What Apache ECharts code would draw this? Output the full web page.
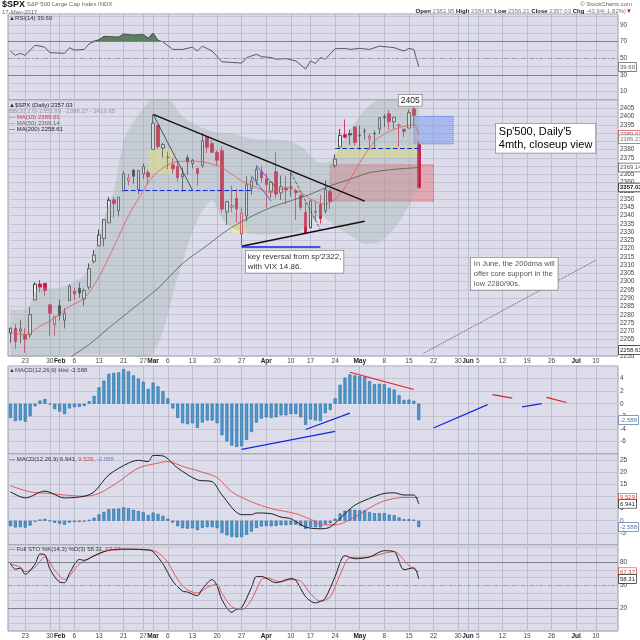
<!DOCTYPE html>
<html>
<head>
<meta charset="utf-8">
<script src="https://cdn.jsdelivr.net/npm/echarts@6.0.0/dist/echarts.min.js"></script>
<style>html,body{margin:0;padding:0;background:#fff}#chart{width:640px;height:640px}</style>
</head>
<body>
<div id="chart"></div>
<script>
// trading calendar
var holidays = ['2017-02-20', '2017-04-14', '2017-05-29', '2017-07-04'];
var monthNames = ['Jan', 'Feb', 'Mar', 'Apr', 'May', 'Jun', 'Jul', 'Aug', 'Sep', 'Oct', 'Nov', 'Dec'];

// daily candles, Jan 18 .. May 17: [open, close, low, high]
var ohlc = [
  [2269.1, 2271.9, 2263.0, 2272.1], [2271.9, 2263.7, 2259.4, 2274.3], [2270.0, 2271.3, 2262.8, 2277.0],
  [2267.8, 2265.2, 2257.0, 2271.8], [2267.9, 2280.1, 2266.0, 2284.6], [2288.9, 2298.4, 2288.9, 2299.6],
  [2298.6, 2296.7, 2293.6, 2301.0], [2299.0, 2294.7, 2291.6, 2299.0], [2286.0, 2280.9, 2267.2, 2286.0],
  [2274.0, 2278.9, 2267.2, 2279.1], [2285.6, 2279.6, 2276.4, 2289.1], [2276.7, 2280.9, 2271.7, 2284.0],
  [2288.5, 2297.4, 2288.5, 2298.3], [2294.3, 2292.6, 2288.9, 2296.2], [2295.9, 2293.1, 2290.2, 2299.4],
  [2289.6, 2294.7, 2285.4, 2295.9], [2296.7, 2307.9, 2295.2, 2311.1], [2312.3, 2316.1, 2311.1, 2319.2],
  [2321.7, 2328.3, 2321.4, 2331.6], [2326.1, 2337.6, 2321.4, 2337.6], [2335.6, 2349.3, 2335.6, 2351.3],
  [2349.6, 2347.2, 2338.9, 2351.3], [2343.0, 2351.2, 2339.6, 2351.2], [2354.9, 2365.4, 2354.9, 2366.7],
  [2361.1, 2362.8, 2358.3, 2365.1], [2367.5, 2363.8, 2359.0, 2368.3], [2355.7, 2367.3, 2352.9, 2367.3],
  [2365.2, 2369.8, 2362.3, 2371.5], [2366.1, 2363.6, 2359.0, 2367.8], [2380.1, 2396.0, 2380.1, 2401.0],
  [2394.8, 2381.9, 2380.2, 2394.8], [2380.9, 2383.1, 2375.1, 2383.9], [2375.2, 2375.3, 2368.0, 2378.8],
  [2370.7, 2368.4, 2365.4, 2375.1], [2369.8, 2363.0, 2360.6, 2373.1], [2363.5, 2364.9, 2354.5, 2369.1],
  [2375.0, 2372.6, 2364.7, 2376.9], [2371.6, 2373.5, 2368.6, 2374.4], [2368.6, 2365.5, 2358.2, 2368.6],
  [2370.3, 2385.3, 2368.9, 2390.0], [2387.7, 2381.4, 2377.8, 2388.1], [2383.7, 2378.3, 2377.8, 2385.7],
  [2378.2, 2373.5, 2370.4, 2379.6], [2379.3, 2344.0, 2341.9, 2381.9], [2342.2, 2348.5, 2334.5, 2348.9],
  [2345.1, 2346.0, 2342.1, 2358.2], [2350.4, 2344.0, 2335.7, 2356.2], [2329.1, 2341.6, 2322.3, 2344.9],
  [2339.8, 2358.6, 2336.3, 2363.8], [2356.5, 2361.1, 2352.7, 2363.4], [2361.3, 2368.1, 2358.3, 2370.4],
  [2366.6, 2362.7, 2359.9, 2370.0], [2362.3, 2358.8, 2344.7, 2365.9], [2354.8, 2360.2, 2350.7, 2360.5],
  [2366.6, 2353.0, 2350.5, 2378.4], [2353.8, 2357.5, 2349.6, 2364.2], [2356.6, 2355.5, 2346.9, 2363.8],
  [2357.2, 2357.2, 2351.5, 2366.4], [2355.0, 2353.8, 2337.3, 2356.2], [2352.2, 2344.9, 2343.5, 2352.7],
  [2342.0, 2329.0, 2329.0, 2348.4], [2332.6, 2349.0, 2332.5, 2349.1], [2342.5, 2342.2, 2337.1, 2348.4],
  [2346.8, 2338.2, 2335.2, 2352.6], [2342.7, 2355.8, 2341.3, 2361.4], [2354.7, 2348.7, 2344.0, 2356.2],
  [2370.3, 2374.2, 2369.0, 2377.0], [2381.5, 2388.6, 2381.5, 2392.5], [2389.0, 2387.5, 2386.8, 2398.2],
  [2389.7, 2388.8, 2382.7, 2392.1], [2393.7, 2384.2, 2382.4, 2393.7], [2388.5, 2388.3, 2379.8, 2394.5],
  [2391.1, 2391.2, 2386.1, 2392.9], [2386.5, 2388.1, 2379.8, 2389.8], [2389.8, 2389.5, 2380.8, 2391.4],
  [2392.4, 2399.3, 2389.4, 2399.3], [2399.9, 2399.4, 2393.6, 2401.4], [2401.6, 2396.9, 2392.0, 2403.9],
  [2396.8, 2399.6, 2392.6, 2399.7], [2394.8, 2394.4, 2381.7, 2395.7], [2392.4, 2390.9, 2387.3, 2392.4],
  [2393.0, 2402.3, 2393.0, 2404.1], [2404.6, 2400.7, 2393.4, 2405.8], [2383.0, 2357.0, 2356.2, 2384.9]
];

// overlays: [day index, value]
var ma10 = [[0,2269],[3,2268],[6,2273],[9,2278],[12,2285],[15,2290],[18,2303],[21,2321],[24,2340],[27,2355],
  [29,2364],[33,2372],[37,2373],[40,2372],[43,2369],[47,2361],[50,2357],[53,2354],[56,2357],[59,2354],
  [61,2350],[64,2347],[66,2350],[68,2357],[71,2372],[74,2385],[77,2391],[80,2394],[82,2395],[83,2389]];
var ma50 = [[12,2254],[16,2262],[20,2272],[25,2284],[30,2296],[35,2311],[40,2322],[44,2331],[48,2338],
  [53,2345],[57,2349],[61,2353],[65,2358],[69,2362],[73,2366],[78,2368],[83,2369.1]];
var bbIdx =   [0, 3, 6, 9, 13, 15, 17, 19, 21, 23, 25, 27, 29, 31, 33, 35, 37, 39, 41, 43, 45, 47, 51, 55, 59, 63, 65, 67, 70, 72, 74, 76, 79, 81, 83];
var bbUpper = [2283, 2283, 2297, 2296, 2300, 2304, 2318, 2338, 2355, 2385, 2397, 2405, 2412, 2414, 2408, 2400, 2396, 2393, 2391, 2390,
  2390, 2388, 2386, 2386, 2382, 2372, 2373, 2382, 2396, 2404, 2409, 2412, 2414, 2416, 2416.7];
var bbLower = [2249, 2249, 2250, 2254, 2256, 2256, 2256, 2256, 2256, 2256, 2255, 2254, 2257, 2270, 2292, 2312, 2330, 2343, 2349, 2338,
  2333, 2330, 2328.5, 2329, 2331, 2340, 2336, 2332, 2326, 2323, 2323, 2326, 2336, 2346, 2355.9];

var rsi = [[0,58.6],[1,53.5],[2,55.9],[3,53.5],[5,65.7],[7,63.3],[8,56.7],[11,55.9],[12,62.6],[13,59.8],[15,60.6],
  [16,67.3],[18,72.4],[19,76.3],[22,75.5],[23,79],[25,77.9],[27,78.5],[28,74.3],[29,80.2],[30,71.6],[31,69.6],
  [33,60.6],[35,60.6],[37,63.3],[38,58.6],[39,64.5],[41,58.6],[43,45.7],[45,45],[47,44.2],[48,50.8],[50,54.7],
  [51,52],[53,50.8],[54,48.8],[56,49.6],[58,46.8],[60,37.1],[61,46.8],[62,43.7],[63,50.8],[64,48.8],[66,61.4],
  [68,61.8],[69,60.6],[71,61.8],[73,60.6],[75,64.5],[77,63.3],[78,62.6],[80,58.6],[81,61.8],[82,60.6],[83,39.6]];

var macdHist = [-2.26,-2.76,-2.66,-2.86,-2.0,-0.4,0.5,0.75,-0.1,-0.85,
  -1.25,-1.65,-0.75,-0.55,-0.5,-0.35,0.4,1.25,2.6,3.66,
  4.76,4.9,5.0,5.5,5.16,4.5,4.0,3.5,2.36,3.36,
  2.76,2.0,0.85,-0.75,-2.26,-3.1,-3.26,-3.1,-3.86,-3.0,
  -2.66,-2.66,-3.1,-5.0,-6.0,-6.67,-6.87,-6.77,-5.76,-4.5,
  -3.0,-2.36,-2.16,-2.26,-2.16,-1.85,-1.85,-1.65,-1.65,-2.16,
  -3.36,-2.5,-2.66,-2.76,-1.5,-1.0,0.85,3.0,4.16,4.66,
  4.5,4.36,4.26,3.6,3.1,3.16,3.1,2.5,2.26,1.35,
  0.6,0.65,0.45,-2.59];
var macdLine = [[0,11.9],[3,9.4],[7,12.2],[11,9.4],[15,10.1],[17,11.9],[20,18.9],[24,23.75],[26,24.9],[28,24.4],
  [29,26.9],[31,26.7],[34,21.7],[38,16.8],[41,16.1],[43,10.6],[47,2.5],[49,2.5],[50,3.2],[53,2.9],[55,1.5],
  [57,0.8],[60,-2.6],[63,-3.3],[65,-2.6],[68,2.9],[70,6.4],[73,9.2],[76,11.25],[78,11.5],[80,10.6],[82,10.6],[83,6.94]];
var macdSignal = [[0,14.4],[4,11.9],[8,11.25],[11,10.6],[15,10.1],[18,11.25],[22,16.1],[26,21.7],[30,23.75],[32,24.4],
  [35,22.4],[39,20],[42,17.8],[45,11.9],[49,7.8],[53,5],[58,2.9],[62,-0.3],[63,-1.7],[66,-1.7],[70,1.5],[73,5.3],
  [76,8.2],[80,9.6],[83,9.53]];

var stoK = [[0,78.8],[1,71],[2,72.7],[3,64.5],[5,78],[6,91],[7,90.2],[8,71.8],[10,54.3],[11,53.5],[12,65.7],[14,84],
  [15,82.9],[17,89],[19,94.3],[21,97],[24,97.5],[28,96.3],[29,94.3],[31,78],[33,55.5],[35,42.4],[36,41.2],[38,36.3],
  [39,45.3],[41,57.6],[42,49.4],[43,31],[45,14.7],[46,18.8],[47,20.8],[49,47.3],[50,61.6],[51,61.6],[54,53.5],
  [57,58.8],[58,56.7],[60,35.1],[62,26.9],[63,29],[64,33],[66,61.6],[68,89],[70,84.9],[73,87.3],[76,95.5],
  [78,94.3],[80,70.6],[82,73],[83,58.3]];
var stoD = [[0,78],[2,73.9],[3,67.8],[5,73.9],[7,87.3],[9,69.8],[11,57.6],[14,78],[17,88.2],[20,96.3],[24,97.5],
  [28,97],[30,93],[32,80],[34,57.6],[36,44],[38,40],[40,47.3],[42,51.4],[43,39.2],[45,22],[47,18],[49,31],
  [51,57.6],[52,59.6],[55,54.7],[57,57.6],[59,55.5],[61,39.2],[63,29],[65,35.1],[67,63.7],[69,86.1],[73,87.3],
  [76,92.2],[78,94.3],[81,75.9],[83,67.4]];

// hand drawn annotations, in [day index, price] terms
var priceLines = [
  [[29, 2401.3], [72, 2348.8], '#111', 1.5, 'solid'],
  [[29, 2401.3], [37, 2355.4], '#333', 0.8, 'solid'],
  [[57, 2366], [63, 2331.5], '#444', 0.8, 'dashed'],
  [[47, 2321.4], [72, 2336.6], '#111', 1.5, 'solid'],
  [[47, 2321.4], [63, 2321.4], '#1028e0', 1.5, 'solid'],
  [[23, 2355.4], [49, 2355.4], '#1028e0', 1.2, 'dashed'],
  [[66, 2381], [83, 2381], '#1028e0', 1.2, 'dashed'],
  [[50, 2370.2], [54, 2357], '#3050f0', 0.8, 'solid'],
  [[49, 2364.1], [53, 2348.8], '#3050f0', 0.8, 'solid'],
  [[84, 2256.7], [119, 2313], '#555', 1, 'dotted']
];
var priceBoxes = [
  [[28, 2380.4], [33, 2365.1], 'rgba(248,242,120,0.6)', null],
  [[45, 2335.6], [48, 2329.5], 'rgba(248,242,120,0.6)', null],
  [[66, 2382.4], [83, 2375.3], 'rgba(248,242,120,0.6)', null],
  [[65, 2370.8], [86, 2348.8], 'rgba(232,118,128,0.5)', '#d06070'],
  [[82, 2400.1], [90, 2383.4], 'rgba(120,150,240,0.5)', '#6080e0']
];
var histLines = [
  [[69, 5.0], [82, 2.26], '#e02020'],
  [[47, -7.26], [66, -4.4], '#1028e0'],
  [[60, -4.1], [69, -1.5], '#1028e0'],
  [[86, -3.86], [97, -0.15], '#1028e0'],
  [[98, 1.46], [102, 0.9], '#e02020'],
  [[104, -0.5], [108, 0], '#1028e0'],
  [[109, 1.0], [113, 0.2], '#e02020']
];

// build the category list of trading days
var days = [];
for (var t = Date.UTC(2017, 0, 18); t <= Date.UTC(2017, 6, 14); t += 864e5) {
  var d = new Date(t), s = d.toISOString().slice(0, 10);
  if (d.getUTCDay() === 0 || d.getUTCDay() === 6 || holidays.indexOf(s) >= 0) continue;
  days.push(d);
}
var dates = days.map(function (d) { return d.toISOString().slice(0, 10); });
var tickLabels = days.map(function (d, i) {
  if (i === 0) return '';
  var p = days[i - 1];
  if (d.getUTCMonth() !== p.getUTCMonth()) return '{m|' + monthNames[d.getUTCMonth()] + '}';
  if (d.getUTCDay() < p.getUTCDay()) return String(d.getUTCDate());
  return '';
});

var myChart = echarts.init(document.getElementById('chart'));

var gridBg = '#dcdcea', lineCol = '#c5c5d7';
var grids = [
  { top: 14, height: 86 },
  { top: 100, height: 256 },
  { top: 366, height: 88 },
  { top: 454, height: 91 },
  { top: 545, height: 87 }
].map(function (g) {
  return Object.assign({ left: 8, right: 22, show: true, backgroundColor: gridBg, borderColor: '#9a9aaa', borderWidth: 1 }, g);
});

function xAx(gi, showLabels) {
  return {
    type: 'category', gridIndex: gi, data: dates, boundaryGap: true,
    axisLine: { show: false }, axisTick: { show: false },
    axisLabel: {
      show: showLabels, interval: 0, fontSize: 6.5, color: '#444', margin: 2,
      formatter: function (v, i) { return tickLabels[i]; },
      rich: { m: { fontSize: 6.5, fontWeight: 'bold', color: '#222' } }
    },
    splitLine: { show: true, alignWithLabel: true, interval: function (i) { return tickLabels[i] !== ''; }, lineStyle: { color: '#bdbdd0', width: 1 } }
  };
}
function yAx(gi, min, max, interval, keep, minor) {
  return {
    type: 'value', gridIndex: gi, position: 'right', min: min, max: max, interval: interval,
    axisLine: { show: false }, axisTick: { show: false },
    axisLabel: { fontSize: 6.5, color: '#444', margin: 2, formatter: function (v) { return keep(v) ? String(v) : ''; } },
    splitLine: { lineStyle: { color: lineCol, width: 1 } },
    minorTick: { show: false, splitNumber: minor || 5 },
    minorSplitLine: { show: !!minor, lineStyle: { color: lineCol, width: 1 } }
  };
}

function tag(v, text, color, bold) {
  return {
    yAxis: v, lineStyle: { color: 'rgba(0,0,0,0)' },
    label: { show: true, position: 'end', distance: 1, formatter: text, fontSize: 6, color: color,
      fontWeight: bold ? 'bold' : 'normal', backgroundColor: '#fff', borderColor: color, borderWidth: 0.7, padding: [1, 1] }
  };
}
function level(v, color, type) {
  return { yAxis: v, lineStyle: { color: color, width: 1, type: type }, label: { show: false } };
}
function seg(a, b, color, width, type) {
  var ls = { color: color, width: width, type: type };
  return [{ coord: a, lineStyle: ls }, { coord: b, lineStyle: ls }];
}

var candles = ohlc.map(function (k, i) {
  var prev = i > 0 ? ohlc[i - 1][1] : k[0];
  var edge = k[1] >= prev ? '#262626' : '#d0143c';
  var fill = k[1] >= k[0] ? '#ececf2' : edge;
  return { value: k, itemStyle: { color: fill, color0: fill, borderColor: edge, borderColor0: edge } };
});
var bbBase = bbIdx.map(function (x, k) { return [x, bbLower[k]]; });
var bbWidth = bbIdx.map(function (x, k) { return [x, bbUpper[k] - bbLower[k]]; });
var rsiOver = rsi.map(function (p) { return [p[0], Math.max(p[1], 70)]; });

var histStyle = { color: '#4a9dd3', borderColor: '#27679a', borderWidth: 0.6 };
var mlBase = { silent: true, symbol: ['none', 'none'], label: { show: false } };

var option = {
  animation: false,
  backgroundColor: '#fff',
  textStyle: { fontFamily: 'Liberation Sans' },
  grid: grids,
  xAxis: [xAx(0, false), xAx(1, true), xAx(2, false), xAx(3, false), xAx(4, true)],
  yAxis: [
    yAx(0, 0, 103, 10, function (v) { return [10, 30, 50, 70, 90].indexOf(v) >= 0; }),
    yAx(1, 2255, 2410, 5, function (v) { return v < 2410; }),
    yAx(2, -8, 6, 2, function (v) { return v > -8 && v < 6; }),
    yAx(3, -10, 27.5, 5, function (v) { return v > -10 && v <= 25; }),
    yAx(4, -10, 103, 30, function (v) { return v > -10 && v <= 80; }, 3)
  ],
  series: [
    { type: 'line', xAxisIndex: 0, yAxisIndex: 0, data: rsiOver, symbol: 'none', silent: true,
      lineStyle: { opacity: 0 }, areaStyle: { origin: 70, color: '#5c7f62', opacity: 1 } },
    { type: 'line', xAxisIndex: 0, yAxisIndex: 0, data: rsi, symbol: 'none', lineStyle: { color: '#3a3a3a', width: 0.8 },
      markLine: Object.assign({}, mlBase, { data: [level(70, '#7e7e90', 'solid'), level(30, '#7e7e90', 'solid'),
        level(50, '#9a9aac', [4, 2, 1, 2]), tag(39.6, '39.60', '#555')] }) },

    { type: 'line', xAxisIndex: 1, yAxisIndex: 1, data: bbBase, stack: 'bb', symbol: 'none', smooth: 0.3, silent: true,
      lineStyle: { opacity: 0 } },
    { type: 'line', xAxisIndex: 1, yAxisIndex: 1, data: bbWidth, stack: 'bb', symbol: 'none', smooth: 0.3, silent: true,
      lineStyle: { opacity: 0 }, areaStyle: { color: 'rgba(158,176,170,0.5)' } },
    { type: 'line', xAxisIndex: 1, yAxisIndex: 1, data: ma50, symbol: 'none', smooth: 0.3, lineStyle: { color: '#4e5e4e', width: 0.8 } },
    { type: 'line', xAxisIndex: 1, yAxisIndex: 1, data: ma10, symbol: 'none', smooth: 0.3, lineStyle: { color: '#e05a5a', width: 0.8 } },
    { type: 'candlestick', xAxisIndex: 1, yAxisIndex: 1, data: candles, barWidth: 3, itemStyle: { borderWidth: 0.8 },
      markArea: { silent: true, data: priceBoxes.map(function (b) {
        return [{ coord: b[0], itemStyle: { color: b[2], borderColor: b[3] || 'rgba(0,0,0,0)', borderWidth: b[3] ? 1 : 0, borderType: 'dotted' } }, { coord: b[1] }];
      }) },
      markLine: Object.assign({}, mlBase, { data: priceLines.map(function (l) { return seg(l[0], l[1], l[2], l[3], l[4]); }).concat([
        tag(2389.01, '2389.01', '#d04040'), tag(2386.27, '2386.27', '#777'), tag(2369.14, '2369.14', '#555'),
        tag(2357.03, '2357.03', '#111', true), tag(2258.61, '2258.61', '#222')]) }) },

    { type: 'bar', xAxisIndex: 2, yAxisIndex: 2, data: macdHist, barWidth: 3, itemStyle: histStyle,
      markLine: Object.assign({}, mlBase, { data: histLines.map(function (l) { return seg(l[0], l[1], l[2], 1.2, 'solid'); })
        .concat([tag(-2.588, '-2.588', '#5a78a8')]) }) },
    { type: 'bar', xAxisIndex: 3, yAxisIndex: 3, data: macdHist, barWidth: 3, itemStyle: histStyle },
    { type: 'line', xAxisIndex: 3, yAxisIndex: 3, data: macdSignal, symbol: 'none', smooth: 0.3, lineStyle: { color: '#e03a3a', width: 0.8 } },
    { type: 'line', xAxisIndex: 3, yAxisIndex: 3, data: macdLine, symbol: 'none', smooth: 0.3, lineStyle: { color: '#1e1e1e', width: 1 },
      markLine: Object.assign({}, mlBase, { data: [tag(9.529, '9.529', '#d04040'), tag(6.941, '6.941', '#222'), tag(-2.588, '-2.588', '#5a78a8')] }) },

    { type: 'line', xAxisIndex: 4, yAxisIndex: 4, data: stoD, symbol: 'none', smooth: 0.3, lineStyle: { color: '#e03a3a', width: 0.8 } },
    { type: 'line', xAxisIndex: 4, yAxisIndex: 4, data: stoK, symbol: 'none', smooth: 0.3, lineStyle: { color: '#1e1e1e', width: 1 },
      markLine: Object.assign({}, mlBase, { data: [level(80, '#7e7e90', 'solid'), level(20, '#7e7e90', 'solid'),
        level(50, '#9a9aac', [4, 2, 1, 2]), tag(67.37, '67.37', '#d04040'), tag(58.31, '58.31', '#222')] }) }
  ],
  graphic: [
    { type: 'text', left: 2, top: 0, style: { text: '{b|$SPX} S&P 500 Large Cap Index INDX', fontSize: 6, fill: '#666',
      rich: { b: { fontSize: 9, fontWeight: 'bold', fill: '#111' } } } },
    { type: 'text', left: 2, top: 9, style: { text: '17-May-2017', fontSize: 6, fill: '#666' } },
    { type: 'text', right: 8, top: 1, style: { text: '© StockCharts.com', fontSize: 6, fill: '#666' } },
    { type: 'text', right: 8, top: 8, style: {
      text: '{b|Open} 2382.95 {b|High} 2384.87 {b|Low} 2356.21 {b|Close} 2357.03 {b|Chg} -43.64(-1.82%){r|▼}',
      fontSize: 6, fill: '#777', rich: { b: { fontSize: 6, fontWeight: 'bold', fill: '#222' }, r: { fontSize: 6, fill: '#d01030' } } } },

    { type: 'text', left: 9, top: 15, z: 50, style: { text: '▲RSI(14) 39.60', fontSize: 6, fill: '#333' } },
    { type: 'text', left: 9, top: 102, z: 50, style: { text: '▲$SPX (Daily) 2357.03', fontSize: 6, fill: '#222' } },
    { type: 'text', left: 9, top: 108, z: 50, style: { text: 'BB(20,2.0) 2355.89 - 2386.27 - 2416.65', fontSize: 6, fill: '#999' } },
    { type: 'text', left: 9, top: 114, z: 50, style: { text: '— MA(10) 2389.01', fontSize: 6, fill: '#d04040' } },
    { type: 'text', left: 9, top: 120, z: 50, style: { text: '— MA(50) 2369.14', fontSize: 6, fill: '#666' } },
    { type: 'text', left: 9, top: 126, z: 50, style: { text: '— MA(200) 2258.61', fontSize: 6, fill: '#222' } },
    { type: 'text', left: 9, top: 367, z: 50, style: { text: '▲MACD(12,26,9) Hist -2.588', fontSize: 6, fill: '#444' } },
    { type: 'text', left: 9, top: 456, z: 50, style: { text: '— MACD(12,26,9) 6.941, {r|9.529}, {bl|-2.588}', fontSize: 6, fill: '#333',
      rich: { r: { fontSize: 6, fill: '#d04040' }, bl: { fontSize: 6, fill: '#6a88c0' } } } },
    { type: 'text', left: 9, top: 546, z: 50, style: { text: '— Full STO %K(14,3) %D(3) 58.31, {r|67.37}', fontSize: 6, fill: '#333',
      rich: { r: { fontSize: 6, fill: '#d04040' } } } },

    { type: 'text', left: 398, top: 94, z: 60, style: { text: '2405', fontSize: 8.5, fill: '#222', backgroundColor: '#fff',
      borderColor: '#888', borderWidth: 0.8, padding: [1, 2] } },
    { type: 'text', left: 495, top: 123, z: 60, style: { text: "Sp'500, Daily'5\n4mth, closeup view", fontSize: 11, lineHeight: 13,
      fill: '#000', backgroundColor: '#fff', borderColor: '#888', borderWidth: 0.8, padding: [2, 3, 1, 3] } },
    { type: 'text', left: 245, top: 250, z: 60, style: { text: "key reversal from sp'2322,\nwith VIX 14.86.", fontSize: 8, lineHeight: 10,
      fill: '#333', backgroundColor: '#fff', borderColor: '#888', borderWidth: 0.8, padding: [1, 2] } },
    { type: 'text', left: 470, top: 257, z: 60, style: { text: 'In June, the 200dma will\noffer core support in the\nlow 2280/90s.', fontSize: 7.5,
      lineHeight: 10, fill: '#555', backgroundColor: '#fff', borderColor: '#888', borderWidth: 0.8, padding: [1, 3] } }
  ]
};

myChart.setOption(option);
</script>
</body>
</html>
